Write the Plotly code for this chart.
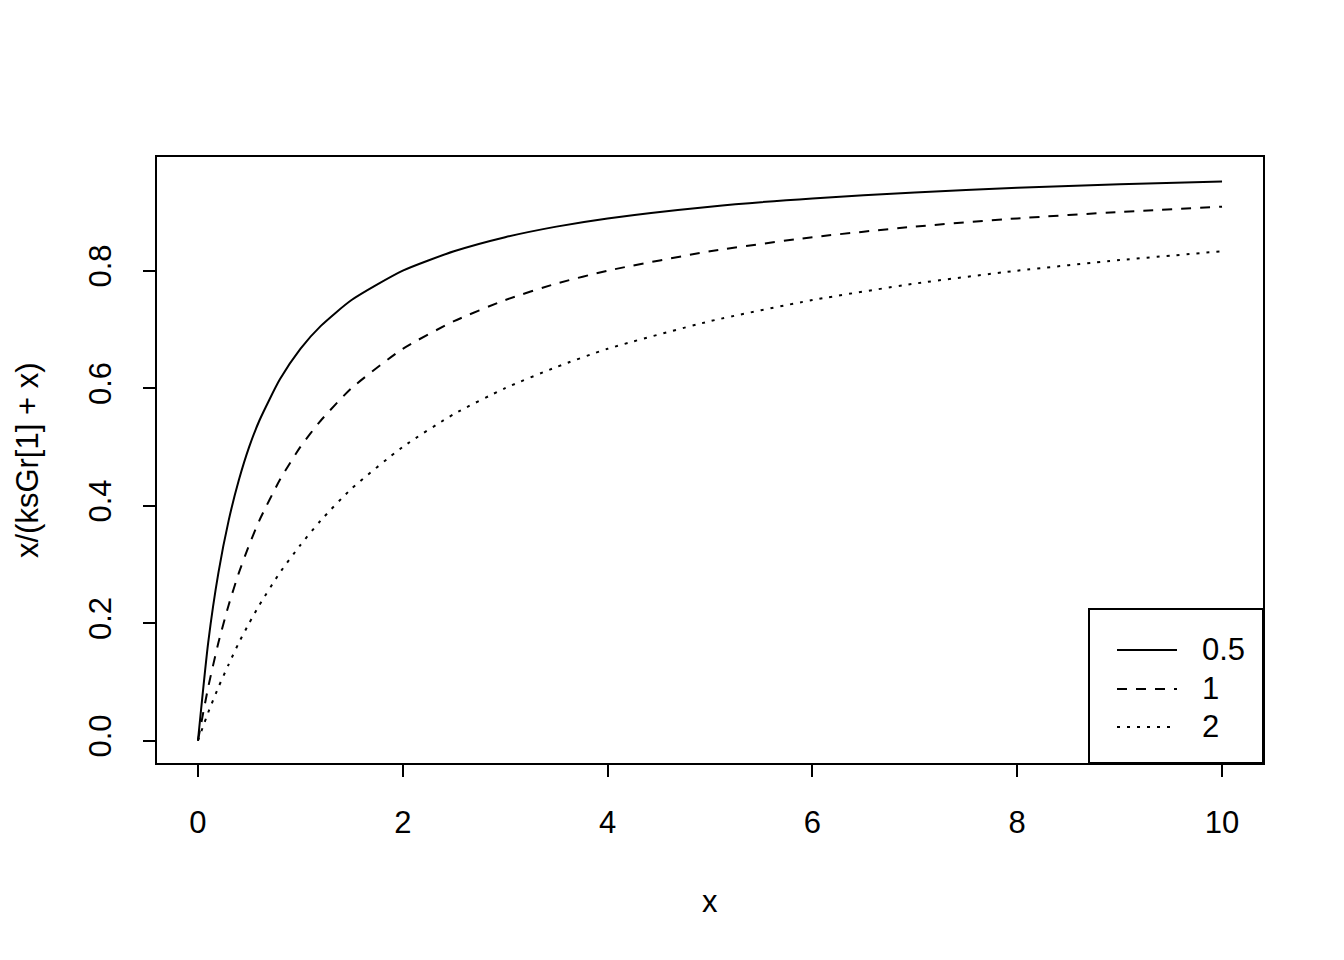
import plotly.graph_objects as go

# Values
x_vals = [0, 0.1, 0.2, 0.3, 0.4, 0.5, 0.6, 0.8, 1.0, 1.2, 1.5, 2, 2.5, 3, 3.5, 4, 5, 6, 7, 8, 9, 10]
y_k05 = [0, 0.167, 0.286, 0.375, 0.444, 0.500, 0.545, 0.615, 0.667, 0.706, 0.750, 0.800, 0.833,
         0.857, 0.875, 0.889, 0.909, 0.923, 0.933, 0.941, 0.947, 0.952]
y_k1 = [0, 0.091, 0.167, 0.231, 0.286, 0.333, 0.375, 0.444, 0.500, 0.545, 0.600, 0.667, 0.714,
        0.750, 0.778, 0.800, 0.833, 0.857, 0.875, 0.889, 0.900, 0.909]
y_k2 = [0, 0.048, 0.091, 0.130, 0.167, 0.200, 0.231, 0.286, 0.333, 0.375, 0.429, 0.500, 0.556,
        0.600, 0.636, 0.667, 0.714, 0.750, 0.778, 0.800, 0.818, 0.833]
series_names = ["0.5", "1", "2"]
x_ticks = [0, 2, 4, 6, 8, 10]
y_ticks = [0.0, 0.2, 0.4, 0.6, 0.8]
x_title = "x"
y_title = "x/(ksGr[1] + x)"

FONT = "Liberation Sans, Arial, Helvetica, sans-serif"
FS = 31
dashes = ["solid", "10px,9px", "3px,7px"]
LW = 2

fig = go.Figure()
for ys, name, d in zip([y_k05, y_k1, y_k2], series_names, dashes):
    fig.add_trace(go.Scatter(x=x_vals, y=ys, mode="lines", name=name,
                             line=dict(color="black", width=LW, dash=d, shape="spline", smoothing=0.6),
                             showlegend=False))

axis_common = dict(showline=True, linecolor="black", linewidth=2, mirror=True,
                   ticks="outside", ticklen=12, tickwidth=2, tickcolor="black",
                   showgrid=False, zeroline=False,
                   tickfont=dict(family=FONT, size=FS, color="black"))

fig.update_layout(
    width=1344, height=960,
    margin=dict(l=157, r=81, t=157, b=197),
    paper_bgcolor="white", plot_bgcolor="white",
    xaxis=dict(range=[-0.4, 10.4], tickvals=x_ticks, ticktext=[str(v) for v in x_ticks],
               ticklabelstandoff=19, **axis_common),
    yaxis=dict(range=[-0.038, 0.9935], tickvals=y_ticks, ticktext=[f"{v:.1f}" for v in y_ticks],
               tickangle=-90, ticklabelstandoff=20, **axis_common),
    showlegend=False,
)

# axis titles
fig.add_annotation(text=x_title, xref="paper", yref="paper", x=0.5, y=0, yshift=-138,
                   showarrow=False, xanchor="center", yanchor="middle",
                   font=dict(family=FONT, size=FS, color="black"))
fig.add_annotation(text=y_title, xref="paper", yref="paper", x=0, y=0.5, xshift=-130,
                   textangle=-90, showarrow=False, xanchor="center", yanchor="middle",
                   font=dict(family=FONT, size=FS, color="black"))

# legend box (R style)
W, H = 1106.0, 606.0
def px(xp):
    return (xp - 157) / W
def py(yp):
    return (763 - yp) / H

fig.add_shape(type="rect", xref="paper", yref="paper", x0=px(1089), x1=1.0, y0=0.0, y1=py(609),
              line=dict(color="black", width=2), fillcolor="rgba(0,0,0,0)")
rows = [650, 689, 727]
for yr, name, d in zip(rows, series_names, dashes):
    fig.add_shape(type="line", xref="paper", yref="paper", x0=px(1117), x1=px(1177),
                  y0=py(yr), y1=py(yr), line=dict(color="black", width=LW, dash=d))
    fig.add_annotation(text=name, xref="paper", yref="paper", x=px(1200), y=py(yr - 1),
                       showarrow=False, xanchor="left", yanchor="middle",
                       font=dict(family=FONT, size=FS, color="black"))

fig.write_html("out.html", config={"displayModeBar": False},
               post_script="document.body.style.margin='0';")
